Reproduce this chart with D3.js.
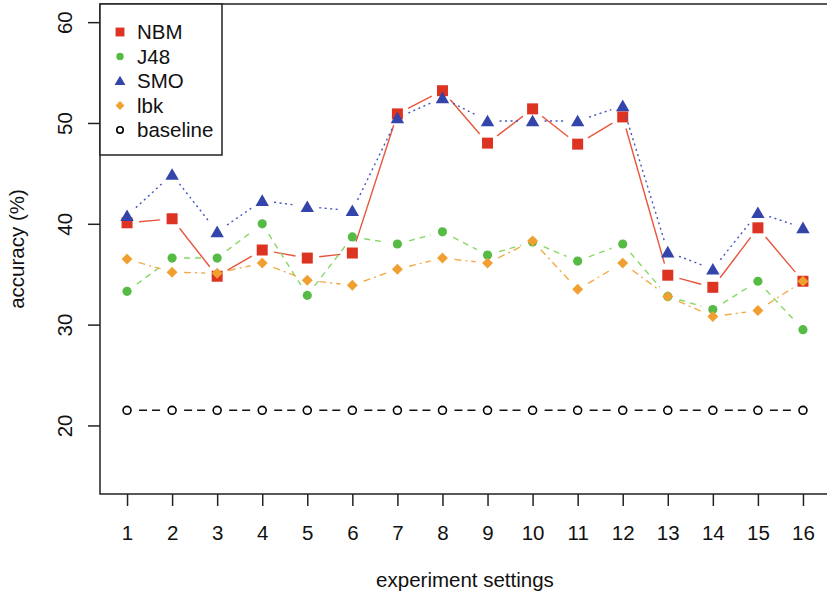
<!doctype html>
<html lang="en">
<head>
  <meta charset="utf-8">
  <title>accuracy by experiment setting</title>
  <style>
    body { margin: 0; background: #fff; }
    svg { display: block; font-family: "Liberation Sans", Arial, sans-serif; }
  </style>
</head>
<body>
  <script src="https://cdn.jsdelivr.net/npm/d3@7/dist/d3.min.js"></script>
  <svg width="827" height="598"></svg>
  <script>
    // values
    var settings = [1,2,3,4,5,6,7,8,9,10,11,12,13,14,15,16];
    var nbm  = [40.1,40.5,34.8,37.4,36.6,37.1,50.9,53.2,48.0,51.4,47.9,50.6,34.9,33.7,39.6,34.3];
    var j48  = [33.3,36.6,36.6,40.0,32.9,38.7,38.0,39.2,36.9,38.2,36.3,38.0,32.8,31.5,34.3,29.5];
    var smo  = [40.8,44.9,39.2,42.3,41.7,41.3,50.5,52.5,50.2,50.2,50.2,51.7,37.2,35.5,41.1,39.6];
    var lbk  = [36.5,35.2,35.1,36.1,34.4,33.9,35.5,36.6,36.1,38.3,33.5,36.1,32.8,30.8,31.4,34.3];
    var baseline = settings.map(() => 21.5);
    var yTicks = [20,30,40,50,60];

    var series = [
      {name:"NBM", values:nbm, col:"#dd3322", line:"#e8553c", dash:null, shape:"square"},
      {name:"J48", values:j48, col:"#55bb44", line:"#88d866", dash:"6,5", shape:"circle"},
      {name:"SMO", values:smo, col:"#3344aa", line:"#4455bb", dash:"2,3.5", shape:"triangle"},
      {name:"lbk", values:lbk, col:"#f0a030", line:"#f2ab48", dash:"7,4,2,4", shape:"diamond"},
      {name:"baseline", values:baseline, col:"#000", line:"#111", dash:"8,5", shape:"open"}
    ];

    var svg = d3.select("svg");
    var x = d3.scaleLinear().domain([0.4,16.6]).range([100,830]);
    var y = d3.scaleLinear().domain([13.2,61.8]).range([494,4]);
    var fs = 20.5;

    // plot box (right side runs off the picture)
    svg.append("rect").attr("x",100).attr("y",4).attr("width",730).attr("height",490)
      .attr("fill","none").attr("stroke","#222").attr("stroke-width",1.5);

    var xAxis = svg.append("g").attr("transform","translate(0,494)")
      .call(d3.axisBottom(x).tickValues(settings).tickSize(12).tickPadding(19).tickFormat(d3.format("d")));
    var yAxis = svg.append("g").attr("transform","translate(100,0)")
      .call(d3.axisLeft(y).tickValues(yTicks).tickSize(12));
    [xAxis,yAxis].forEach(g => {
      g.select(".domain").remove();
      g.selectAll("line").attr("stroke","#222").attr("stroke-width",1.5);
      g.selectAll("text").attr("font-size",fs).attr("fill","#111").attr("font-family","Liberation Sans, Arial, sans-serif");
    });
    // R style: y labels parallel to the axis
    yAxis.selectAll("text")
      .attr("x",null).attr("dy",null)
      .attr("text-anchor","middle")
      .attr("transform","translate(-28,0) rotate(-90)");

    svg.append("text").attr("x",465).attr("y",587).attr("text-anchor","middle")
      .attr("font-size",fs).attr("fill","#111").text("experiment settings");
    svg.append("text").attr("transform","translate(24,249) rotate(-90)").attr("text-anchor","middle")
      .attr("font-size",fs).attr("fill","#111").text("accuracy (%)");

    function symbolPath(shape, k) {
      if (shape === "square") return d3.symbol(d3.symbolSquare, 121*k)();
      if (shape === "circle") return d3.symbol(d3.symbolCircle, 66*k)();
      if (shape === "triangle") return d3.symbol(d3.symbolTriangle, 78*k)();
      if (shape === "diamond") return d3.symbol(d3.symbolSquare, 60*k)();
      return d3.symbol(d3.symbolCircle, 50*k)();
    }
    function drawSymbol(g, s, cx, cy, k) {
      var p = g.append("path").attr("d", symbolPath(s.shape, k));
      var rot = s.shape === "diamond" ? " rotate(45)" : "";
      var dy = s.shape === "triangle" ? 1.5*k : 0;
      p.attr("transform","translate(" + cx + "," + (cy + dy) + ")" + rot);
      if (s.shape === "open") p.attr("fill","#fff").attr("stroke",s.col).attr("stroke-width",1.6);
      else p.attr("fill",s.col);
    }

    var gap = 12;
    series.forEach(s => {
      var g = svg.append("g");
      var pts = s.values.map((v,i) => [x(settings[i]), y(v)]);
      d3.pairs(pts).forEach(([a,b]) => {
        var dx = b[0]-a[0], dy = b[1]-a[1], len = Math.hypot(dx,dy);
        if (len <= 2*gap) return;
        var ux = dx/len, uy = dy/len;
        g.append("line")
          .attr("x1",a[0]+ux*gap).attr("y1",a[1]+uy*gap)
          .attr("x2",b[0]-ux*gap).attr("y2",b[1]-uy*gap)
          .attr("stroke",s.line).attr("stroke-width",1.4)
          .attr("stroke-dasharray",s.dash);
      });
      pts.forEach(p => drawSymbol(g, s, p[0], p[1], 1));
    });

    // legend
    var lg = svg.append("g");
    lg.append("rect").attr("x",100).attr("y",4).attr("width",122).attr("height",151)
      .attr("fill","#fff").attr("stroke","#222").attr("stroke-width",1.5);
    series.forEach((s,i) => {
      var ly = 32 + i*24.5;
      drawSymbol(lg, s, 120, ly, 0.65);
      lg.append("text").attr("x",137).attr("y",ly).attr("dy","0.36em")
        .attr("font-size",20.5).attr("fill","#111").text(s.name);
    });
  </script>
</body>
</html>
